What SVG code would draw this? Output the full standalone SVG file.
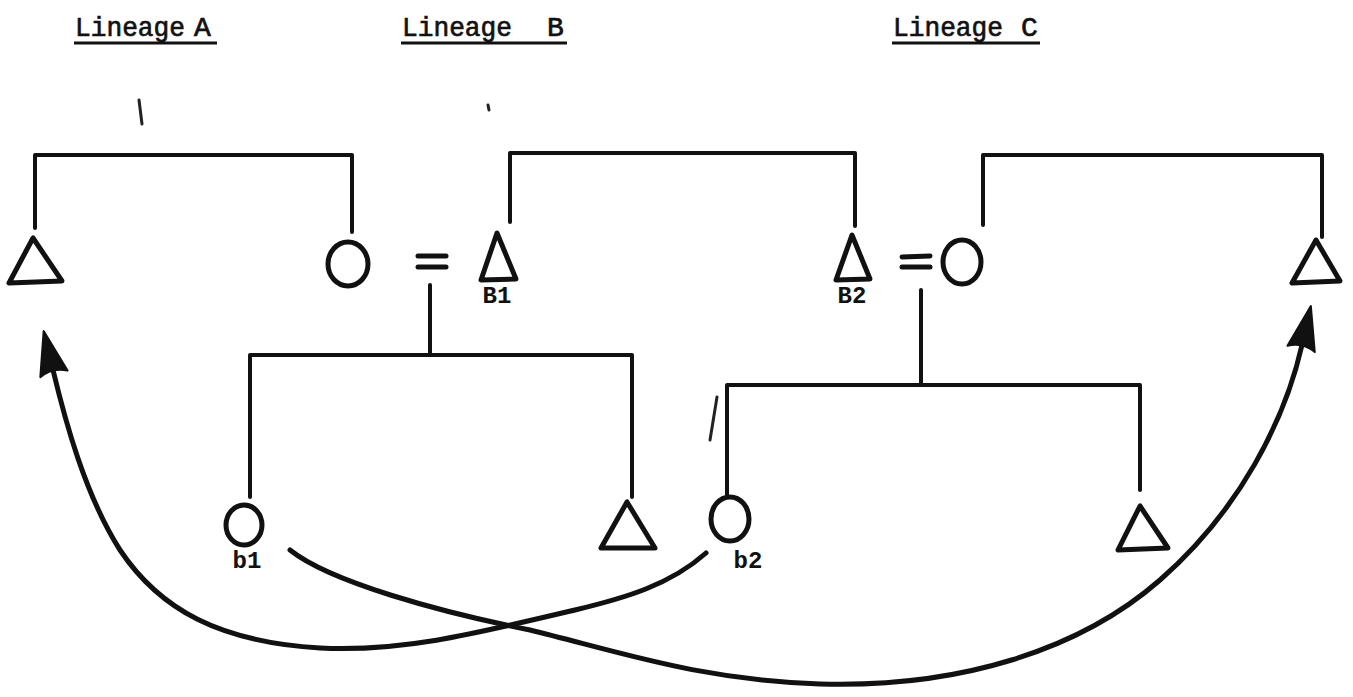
<svg xmlns="http://www.w3.org/2000/svg" width="1353" height="697" viewBox="0 0 1353 697">
<style>
  .hd { font-family: "Liberation Mono", "DejaVu Sans Mono", monospace; font-size: 28px; fill: #111; stroke: #111; stroke-width: 0.7; }
  .lb { font-family: "Liberation Mono", "DejaVu Sans Mono", monospace; font-size: 24px; font-weight: bold; fill: #111; text-anchor: middle; }
  .ul { stroke: #111; stroke-width: 3; fill: none; }
  .ln { stroke: #111; stroke-width: 4; fill: none; stroke-linecap: round; stroke-linejoin: round; }
  .sym { stroke: #111; stroke-width: 5; fill: none; stroke-linejoin: round; stroke-linecap: round; }
  .cv { stroke: #111; stroke-width: 5; fill: none; stroke-linecap: round; }
  .mk { stroke: #222; stroke-width: 3; fill: none; stroke-linecap: round; }
</style>
<defs>
  <marker id="arrow" markerUnits="userSpaceOnUse" markerWidth="60" markerHeight="40" refX="10" refY="20" orient="auto" overflow="visible">
    <path d="M50,20 L6,6 Q13,20 6,34 Z" fill="#111" stroke="#111" stroke-width="2" stroke-linejoin="round"/>
  </marker>
</defs>
<rect width="1353" height="697" fill="#fff"/>

<g id="headings">
  <text class="hd" x="75" y="36"><tspan textLength="110" lengthAdjust="spacingAndGlyphs">Lineage</tspan> <tspan x="194">A</tspan></text>
  <line class="ul" x1="74" y1="43" x2="217" y2="43"/>
  <text class="hd" x="402" y="36"><tspan textLength="110" lengthAdjust="spacingAndGlyphs">Lineage</tspan> <tspan x="547">B</tspan></text>
  <line class="ul" x1="401" y1="43" x2="567" y2="43"/>
  <text class="hd" x="893" y="36"><tspan textLength="110" lengthAdjust="spacingAndGlyphs">Lineage</tspan> <tspan x="1021">C</tspan></text>
  <line class="ul" x1="892" y1="43" x2="1040" y2="43"/>
</g>

<g id="connectors">
  <path class="ln" d="M35,228 V155 H352 V232"/>
  <path class="ln" d="M510,222 V153 H855 V226"/>
  <path class="ln" d="M983,225 V155 H1322 V237"/>
  <path class="ln" d="M430,285 V355"/>
  <path class="ln" d="M250,497 V355 H632 V497"/>
  <path class="ln" d="M921,290 V385"/>
  <path class="ln" d="M727,495 V385 H1140 V490"/>
  <line class="sym" x1="418" y1="256" x2="446" y2="256"/>
  <line class="sym" x1="418" y1="267" x2="446" y2="267"/>
  <line class="sym" x1="902" y1="257" x2="930" y2="256"/>
  <line class="sym" x1="902" y1="267" x2="930" y2="267"/>
  <path class="cv" marker-end="url(#arrow)" d="M706,553 C670,585 625,598 575,610 C470,635 400,652 320,648 C220,642 160,610 120,550 C85,495 65,420 53,370"/>
  <path class="cv" marker-end="url(#arrow)" d="M290,550 C330,582 440,612 530,630 C620,652 700,680 820,684 C960,688 1080,650 1160,580 C1240,510 1285,420 1302,345"/>
</g>

<g id="A1"><path class="sym" d="M33,238 L9,283 L62,281 Z"/></g>
<g id="A2"><ellipse class="sym" cx="348" cy="264" rx="20" ry="22"/></g>
<g id="B1"><path class="sym" d="M497,233 L481,280 L516,279 Z"/><text class="lb" x="497" y="303">B1</text></g>
<g id="B2"><path class="sym" d="M852,235 L836,280 L870,279 Z"/><text class="lb" x="852" y="303">B2</text></g>
<g id="C1"><ellipse class="sym" cx="962" cy="262" rx="19" ry="22"/></g>
<g id="C2"><path class="sym" d="M1316,240 L1292,283 L1340,281 Z"/></g>
<g id="b1"><ellipse class="sym" cx="244" cy="525" rx="18" ry="20"/><text class="lb" x="247" y="568">b1</text></g>
<g id="bB"><path class="sym" d="M627,502 L601,548 L655,548 Z"/></g>
<g id="b2"><ellipse class="sym" cx="730" cy="519" rx="19" ry="22"/><text class="lb" x="748" y="568">b2</text></g>
<g id="bC"><path class="sym" d="M1140,506 L1118,550 L1168,548 Z"/></g>

<g id="marks">
  <path class="mk" d="M139,100 L142,124"/>
  <path class="mk" d="M488,105 L489,110"/>
  <path class="mk" d="M717,397 L710,440"/>
</g>
</svg>
